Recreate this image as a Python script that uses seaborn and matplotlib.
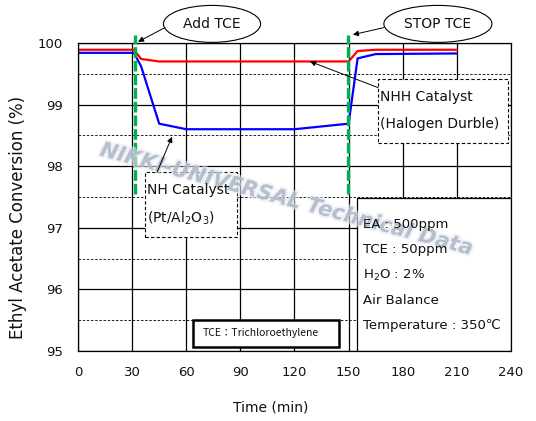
import matplotlib

matplotlib.use("Agg")
import matplotlib.patheffects as pe
import matplotlib.pyplot as plt
import numpy as np
import seaborn as sns
from matplotlib.patches import Ellipse, Rectangle

# conversion readings (min, %)
TIME_NHH = [0, 31, 35, 45, 150, 155, 165, 210]
CONV_NHH = [99.89, 99.89, 99.74, 99.70, 99.70, 99.87, 99.89, 99.89]
TIME_NH = [0, 31, 35, 45, 60, 120, 150, 155, 165, 210]
CONV_NH = [99.84, 99.84, 99.62, 98.69, 98.60, 98.60, 98.69, 99.75, 99.82, 99.83]

# TCE dosing start / stop
TCE_EVENTS = [31.8, 149.5]
TCE_LABELS = ["Add TCE", "STOP TCE"]

X_TICKS = list(range(0, 241, 30))
Y_MAJOR = [95, 96, 97, 98, 99, 100]
Y_MINOR = [95.5, 96.5, 97.5, 98.5, 99.5]

CONDITIONS = ["EA : 500ppm", "TCE : 50ppm", "H$_2$O : 2%", "Air Balance", "Temperature : 350℃"]

RED = "#FF0000"
BLUE = "#0000FF"
GREEN = "#00B050"


def main() -> None:
    sns.set_theme(style="white")
    plt.rcParams["font.family"] = ["DejaVu Sans", "Noto Sans CJK JP"]
    plt.rcParams["text.color"] = "#111111"

    fig = plt.figure(figsize=(5.36, 4.21), dpi=100)
    ax = fig.add_axes([0.1455, 0.1663, 0.8078, 0.7316])

    sns.lineplot(x=TIME_NHH, y=CONV_NHH, color=RED, lw=1.6, ax=ax, zorder=2)
    sns.lineplot(x=TIME_NH, y=CONV_NH, color=BLUE, lw=1.6, ax=ax, zorder=2)

    for t in TCE_EVENTS:
        ax.axvline(t, ymin=0.511, ymax=1.027, color=GREEN, lw=2.4,
                   ls=(0, (3.2, 0.9)), clip_on=False, zorder=3)

    ax.set_xlim(0, 240)
    ax.set_ylim(95, 100)
    ax.set_xticks(X_TICKS)
    ax.set_yticks(Y_MAJOR)
    ax.set_yticks(Y_MINOR, minor=True)
    ax.set_axisbelow(True)
    ax.grid(which="major", color="black", lw=0.9, ls="-")
    ax.grid(which="minor", axis="y", color="black", lw=0.6, ls=(0, (3, 2)))
    ax.tick_params(which="both", length=0, labelsize=9.5, colors="#111111")
    ax.tick_params(axis="x", pad=11)
    ax.tick_params(axis="y", pad=11)
    for spine in ax.spines.values():
        spine.set_color("black")
        spine.set_linewidth(0.9)

    ax.set_xlabel("Time (min)", fontsize=10, color="#111111")
    ax.set_ylabel("Ethyl Acetate Conversion (%)", fontsize=12, color="#111111")
    ax.xaxis.label.set_va("center")
    ax.yaxis.label.set_va("center")
    ax.xaxis.set_label_coords(0.446, -0.185)
    ax.yaxis.set_label_coords(-0.139, 0.432)

    # event callouts
    ellipse_specs = [((74.3, 100.31), 53.8), ((199.5, 100.31), 59.9)]
    arrow_specs = [((48.2, 100.25), (33.3, 100.02)), ((169.6, 100.25), (152.4, 100.135))]
    for label, (center, width), (start, tip) in zip(TCE_LABELS, ellipse_specs, arrow_specs):
        ax.add_patch(Ellipse(center, width, 0.6, facecolor="white", edgecolor="black",
                             lw=0.8, clip_on=False, zorder=5))
        ax.text(center[0], center[1], label, ha="center", va="center", fontsize=10, zorder=6)
        ax.annotate("", xy=tip, xytext=start, annotation_clip=False,
                    arrowprops=dict(arrowstyle="-|>", color="black", lw=0.7,
                                    mutation_scale=8, shrinkA=0, shrinkB=0), zorder=6)

    # catalyst labels
    ax.add_patch(Rectangle((166.3, 98.37), 72.0, 1.05, facecolor="white", edgecolor="black",
                           lw=0.8, ls=(0, (3, 2)), zorder=1.5))
    ax.text(167.3, 99.12, "NHH Catalyst", fontsize=10, va="center", zorder=6)
    ax.text(167.3, 98.69, "(Halogen Durble)", fontsize=10, va="center", zorder=6)
    ax.annotate("", xy=(128.6, 99.70), xytext=(166.3, 99.276), annotation_clip=False,
                arrowprops=dict(arrowstyle="-|>", color="black", lw=0.7,
                                mutation_scale=8, shrinkA=0, shrinkB=0), zorder=6)

    ax.add_patch(Rectangle((37.1, 96.845), 51.0, 1.053, facecolor="white", edgecolor="black",
                           lw=0.8, ls=(0, (3, 2)), zorder=1.5))
    ax.text(38.3, 97.62, "NH Catalyst", fontsize=10, va="center", zorder=6)
    ax.text(38.3, 97.15, "(Pt/Al$_2$O$_3$)", fontsize=10, va="center", zorder=6)
    ax.annotate("", xy=(52.1, 98.477), xytext=(43.8, 97.9), annotation_clip=False,
                arrowprops=dict(arrowstyle="-|>", color="black", lw=0.7,
                                mutation_scale=8, shrinkA=0, shrinkB=0), zorder=6)

    # test conditions
    ax.add_patch(Rectangle((154.5, 95.0), 85.5, 2.49, facecolor="white", edgecolor="black",
                           lw=0.9, zorder=1.5))
    for i, line in enumerate(CONDITIONS):
        ax.text(157.8, 97.05 - i * 0.41, line, fontsize=9.5, va="center", zorder=6)

    ax.add_patch(Rectangle((63.7, 95.067), 81.0, 0.437, facecolor="white", edgecolor="black",
                           lw=1.8, zorder=1.5))
    ax.text(69.3, 95.29, "TCE：Trichloroethylene", fontsize=7.5, va="center",
            family=["Noto Sans CJK JP", "DejaVu Sans"], zorder=6)

    # watermark
    ax.text(115.8, 97.46, "NIKKI-UNIVERSAL Technical Data", rotation=-15,
            rotation_mode="anchor", ha="center", va="center", fontsize=15,
            fontweight="bold", fontstyle="italic", color="#A9B5C6", alpha=0.75, zorder=4,
            path_effects=[pe.Stroke(linewidth=3, foreground="#E6EAF0", alpha=0.6), pe.Normal()])

    fig.savefig("out.png", dpi=100)
    plt.close(fig)


if __name__ == "__main__":
    main()
